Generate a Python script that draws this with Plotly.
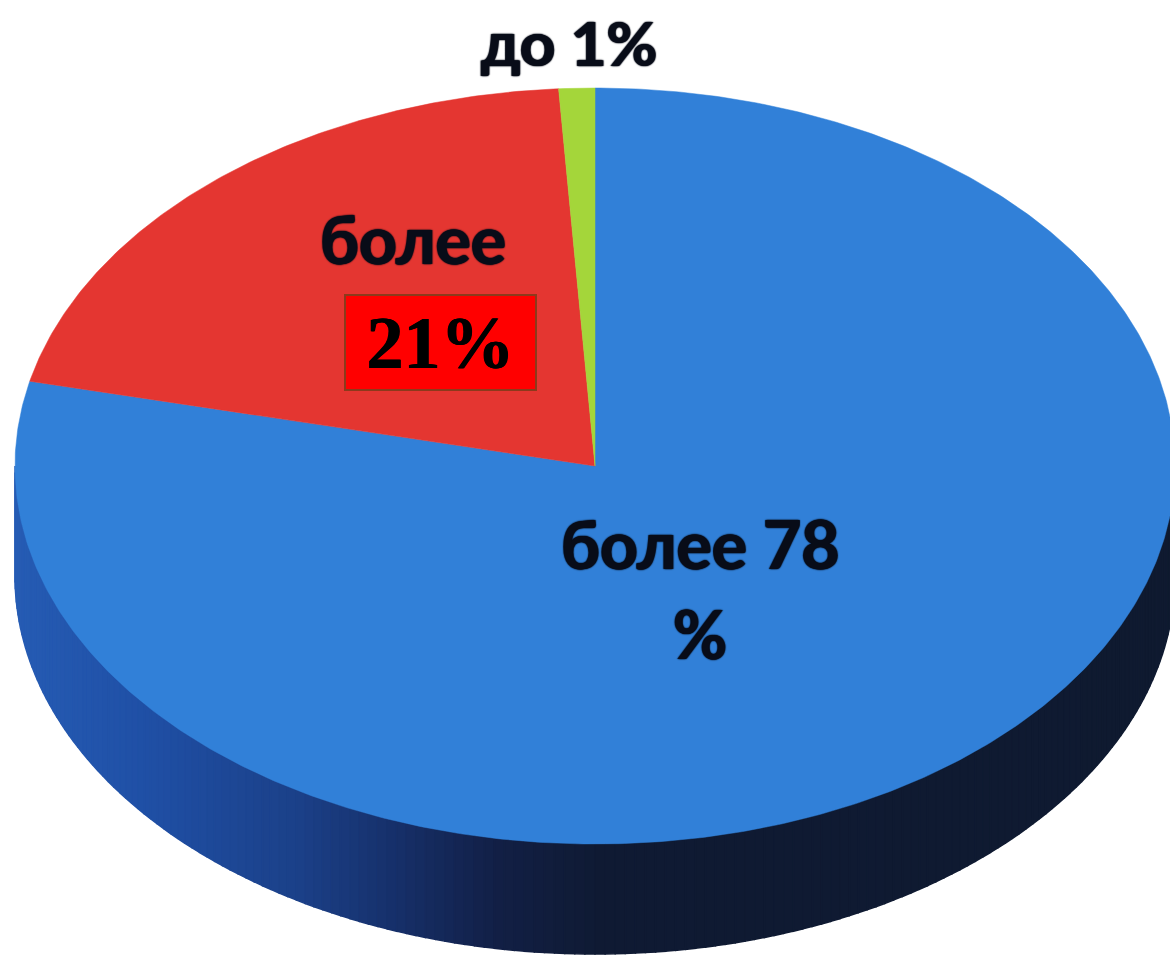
import numpy as np
import plotly.graph_objects as go

categories = ["более 78 %", "более 21%", "до 1%"]
values = [78.6, 20.4, 1.0]
slice_colors = ["#3180d8", "#e43631", "#a4d63a"]

side_stops_x = [15, 150, 300, 400, 500, 600, 1175]
side_stops_rgb = [(38, 92, 180), (31, 79, 165), (27, 64, 136), (22, 47, 104), (18, 31, 69), (15, 26, 51), (15, 26, 48)]

W, H = 1170, 955
CX, CY, RX, RY, DEPTH = 595, 466, 580, 378, 110


def rim(theta):
    return CX + RX * np.sin(theta), CY - RY * np.cos(theta)


fig = go.Figure()

# Side wall of the disc, coloured in narrow strips from left to right
edges = np.radians(np.linspace(270, 90, 181))
for a, b in zip(edges[:-1], edges[1:]):
    t = np.linspace(a, b, 4)
    x, y = rim(t)
    xs = np.r_[x, x[::-1], x[0]]
    ys = np.r_[y, y[::-1] + DEPTH, y[0]]
    mid = x.mean()
    rgb = [int(round(np.interp(mid, side_stops_x, [c[i] for c in side_stops_rgb]))) for i in range(3)]
    col = f"rgb({rgb[0]},{rgb[1]},{rgb[2]})"
    fig.add_trace(go.Scatter(x=xs, y=ys, mode="lines", fill="toself", fillcolor=col,
                             line=dict(color=col, width=1.5), hoverinfo="skip", showlegend=False))

# Top face: one wedge per value, angles accumulated from the values
cum = np.r_[0, np.cumsum(values)] / np.sum(values) * 2 * np.pi
for name, start, end, col in zip(categories, cum[:-1], cum[1:], slice_colors):
    t = np.linspace(start, end, max(int(np.degrees(end - start) * 2), 8))
    x, y = rim(t)
    fig.add_trace(go.Scatter(x=np.r_[CX, x, CX], y=np.r_[CY, y, CY], mode="lines", fill="toself",
                             fillcolor=col, line=dict(color=col, width=0.5), name=name,
                             hoverinfo="name", showlegend=False))

SHADOW = "0 0 2px #080c18, 1px 0 1px #080c18, -1px 0 1px #080c18"
for text, px, py, size in [("до 1%", 569, 42, 62), ("более", 413, 238, 66),
                           ("более 78", 700, 543, 66), ("%", 700, 633, 66)]:
    fig.add_annotation(x=px, y=py, text=f"<b>{text}</b>", showarrow=False, xref="x", yref="y",
                       xanchor="center", yanchor="middle",
                       font=dict(family="Lato", size=size, color="#080c18", weight="bold", shadow=SHADOW))

fig.add_annotation(x=440.5, y=342.5, text="21%", showarrow=False, xref="x", yref="y",
                   xanchor="center", yanchor="middle", width=189, height=93, align="center", valign="middle",
                   bgcolor="#ff0000", bordercolor="#8c3a1c", borderwidth=2, borderpad=0,
                   font=dict(family="Liberation Serif", size=74, color="#000000", weight=700,
                             shadow="0.6px 0 0 #000000, -0.6px 0 0 #000000"))

fig.update_layout(
    width=W, height=H, margin=dict(l=0, r=0, t=0, b=0),
    paper_bgcolor="white", plot_bgcolor="white", showlegend=False,
    xaxis=dict(range=[0, W], visible=False, fixedrange=True),
    yaxis=dict(range=[H, 0], visible=False, fixedrange=True),
)
fig.write_html("out.html", config={"displayModeBar": False},
               post_script="document.body.style.margin='0';document.documentElement.style.overflow='hidden';")
